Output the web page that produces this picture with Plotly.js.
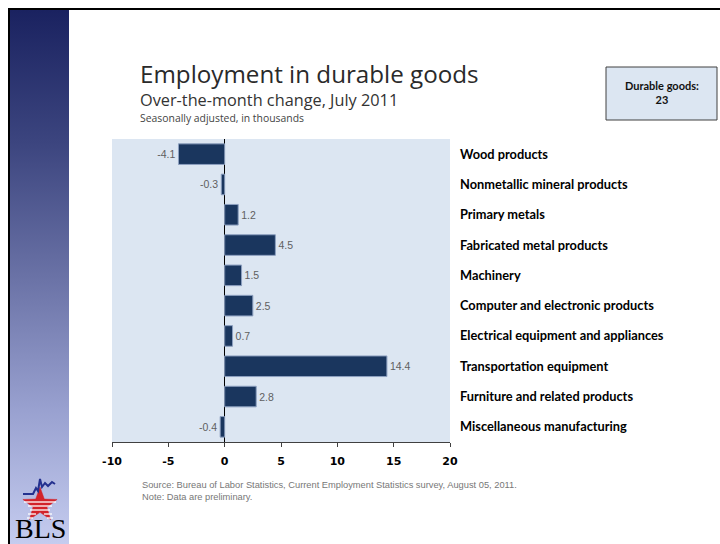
<!DOCTYPE html>
<html>
<head>
<meta charset="utf-8">
<script src="https://cdn.plot.ly/plotly-3.0.1.min.js"></script>
<style>
  html, body { margin: 0; padding: 0; background: #ffffff; }
  #wrap { position: relative; width: 720px; height: 544px; overflow: hidden; background: #ffffff; }
  #frameTop { position: absolute; left: 8px; top: 8px; width: 712px; height: 2px; background: #000; }
  #frameLeft { position: absolute; left: 8px; top: 8px; width: 2px; height: 536px; background: #000; }
  #sidebar { position: absolute; left: 10px; top: 10px; width: 59px; height: 534px;
    background: linear-gradient(to bottom, #1a2260 0%, #3c457f 25%, #6a72a6 50%, #99a1d0 75%, #c5ccef 100%); }
  #chart { position: absolute; left: 0; top: 0; width: 720px; height: 544px; }
</style>
</head>
<body>
<div id="wrap">
  <div id="sidebar"></div>
  <div id="frameTop"></div>
  <div id="frameLeft"></div>
  <div id="chart"></div>
</div>
<script>
// ---- Data ----
const categories = [
  "Wood products",
  "Nonmetallic mineral products",
  "Primary metals",
  "Fabricated metal products",
  "Machinery",
  "Computer and electronic products",
  "Electrical equipment and appliances",
  "Transportation equipment",
  "Furniture and related products",
  "Miscellaneous manufacturing"
];
const changes = [-4.1, -0.3, 1.2, 4.5, 1.5, 2.5, 0.7, 14.4, 2.8, -0.4];
const xTickValues = [-10, -5, 0, 5, 10, 15, 20];
const totalLabel = "Durable goods:";
const totalValue = 23;

// ---- Pixel helpers for decorations (plot area is x 112..450, y 139..442) ----
const PL = 112, PR = 450, PT = 139, PB = 442;
const px = x => (x - PL) / (PR - PL);
const py = y => (PB - y) / (PB - PT);

function pathFrom(points, close) {
  return points.map((p, i) => (i ? "L" : "M") + px(p[0]).toFixed(4) + "," + py(p[1]).toFixed(4)).join(" ") + (close ? " Z" : "");
}

// star
const cx = 40, cy = 505, R = 18, r = 7.3;
const starPts = [];
for (let i = 0; i < 10; i++) {
  const ang = -Math.PI / 2 + i * Math.PI / 5;
  const rad = i % 2 === 0 ? R : r;
  starPts.push([cx + rad * Math.cos(ang), cy + rad * Math.sin(ang)]);
}
const stripes = [[24, 56, 502], [28, 52, 506], [30, 50, 510], [28, 36, 514], [44, 52, 514], [27, 33, 518], [47, 53, 518]];
const bluePts = [[23, 494], [33, 494], [36, 488], [38, 491], [40, 479], [42, 487], [45, 483], [48, 486], [52, 482], [55, 484]];

const shapes = [
  { type: "rect", xref: "paper", yref: "paper", x0: px(606), x1: px(717), y0: py(67), y1: py(120),
    fillcolor: "#dce6f2", line: { color: "#404040", width: 1 } },
  { type: "path", xref: "paper", yref: "paper", path: pathFrom(starPts, true),
    fillcolor: "#d2232a", line: { color: "#d2232a", width: 0.5 } },
  { type: "path", xref: "paper", yref: "paper", path: pathFrom(bluePts, false),
    line: { color: "#24318f", width: 2 } }
];
stripes.forEach(s => shapes.push({
  type: "line", xref: "paper", yref: "paper", x0: px(s[0]), x1: px(s[1]), y0: py(s[2]), y1: py(s[2]),
  line: { color: "#ffffff", width: 1.3 }
}));

const annotations = [
  { xref: "paper", yref: "paper", x: px(139), y: py(74), xanchor: "left", yanchor: "middle", showarrow: false, borderpad: 0,
    text: "Employment in durable goods", font: { family: "Open Sans, Liberation Sans, sans-serif", size: 24.2, color: "#2a2a2a" } },
  { xref: "paper", yref: "paper", x: px(139), y: py(100.5), xanchor: "left", yanchor: "middle", showarrow: false, borderpad: 0,
    text: "Over-the-month change, July 2011", font: { family: "Open Sans, Liberation Sans, sans-serif", size: 16.3, color: "#333333" } },
  { xref: "paper", yref: "paper", x: px(139), y: py(117.5), xanchor: "left", yanchor: "middle", showarrow: false, borderpad: 0,
    text: "Seasonally adjusted, in thousands", font: { family: "Open Sans, Liberation Sans, sans-serif", size: 10.4, color: "#444444" } },
  { xref: "paper", yref: "paper", x: px(661.5), y: py(93), xanchor: "center", yanchor: "middle", showarrow: false,
    text: "<b>" + totalLabel + "<br>" + totalValue + "</b>", font: { family: "Lato, Liberation Sans, sans-serif", size: 11, color: "#111111" } },
  { xref: "paper", yref: "paper", x: px(140), y: py(491), xanchor: "left", yanchor: "middle", showarrow: false, align: "left",
    text: "Source: Bureau of Labor Statistics, Current Employment Statistics survey, August 05, 2011.<br>Note: Data are preliminary.",
    font: { family: "Liberation Sans, Arial, sans-serif", size: 9.3, color: "#777777" } },
  { xref: "paper", yref: "paper", x: px(40), y: py(528), xanchor: "center", yanchor: "middle", showarrow: false,
    text: "BLS", font: { family: "Liberation Serif, DejaVu Serif, serif", size: 28, color: "#000000" } }
];

const trace = {
  type: "bar",
  orientation: "h",
  y: categories,
  x: changes,
  text: changes.map(v => v.toFixed(1)),
  textposition: "outside",
  cliponaxis: false,
  textfont: { family: "Liberation Sans, Arial, sans-serif", size: 10.5, color: "#5f5f5f" },
  marker: { color: "#1a365e", line: { color: "#8da0c0", width: 1 } },
  hoverinfo: "x+y"
};

const layout = {
  width: 720, height: 544,
  margin: { l: PL, r: 720 - PR, t: PT, b: 544 - PB, pad: 0 },
  paper_bgcolor: "rgba(0,0,0,0)",
  plot_bgcolor: "#dce6f2",
  showlegend: false,
  bargap: 0.32,
  xaxis: {
    range: [-10, 20],
    tickvals: xTickValues,
    ticktext: xTickValues.map(String),
    showgrid: false,
    zeroline: true, zerolinecolor: "#000000", zerolinewidth: 1,
    showline: true, linecolor: "#404040", linewidth: 1,
    ticks: "outside", ticklen: 4, tickcolor: "#404040",
    ticklabelstandoff: 5,
    tickfont: { family: "DejaVu Sans, Verdana, sans-serif", size: 11, color: "#000000", weight: "bold" },
    fixedrange: true
  },
  yaxis: {
    type: "category",
    autorange: "reversed",
    side: "right",
    showgrid: false, zeroline: false, showline: false, ticks: "",
    ticklabelstandoff: 9,
    tickfont: { family: "Lato, Liberation Sans, sans-serif", size: 12.8, color: "#000000", weight: "bold" },
    fixedrange: true
  },
  shapes: shapes,
  annotations: annotations
};

Plotly.newPlot("chart", [trace], layout, { displayModeBar: false, staticPlot: true });
</script>
</body>
</html>
